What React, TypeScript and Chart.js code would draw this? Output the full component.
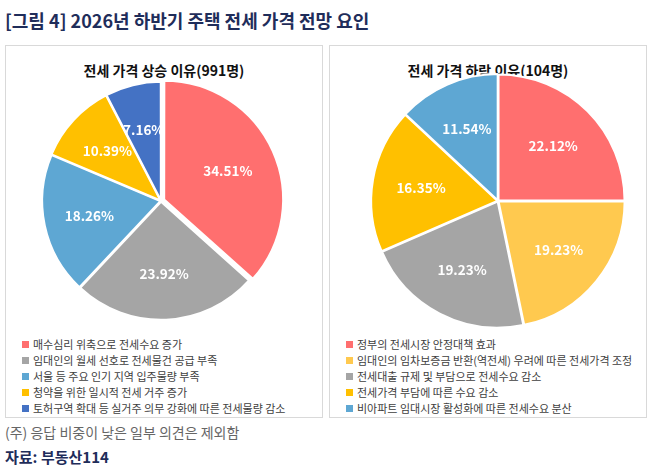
import React, { useEffect, useRef } from "react";
import Chart from "chart.js/auto";

const FONT = "'Noto Sans CJK KR', 'Noto Sans', sans-serif";

const upLabels = [
  "매수심리 위축으로 전세수요 증가",
  "임대인의 월세 선호로 전세물건 공급 부족",
  "서울 등 주요 인기 지역 입주물량 부족",
  "청약을 위한 일시적 전세 거주 증가",
  "토허구역 확대 등 실거주 의무 강화에 따른 전세물량 감소",
];
const upValues = [34.51, 23.92, 18.26, 10.39, 7.16];
const upColors = ["#FF6F6F", "#A5A5A5", "#5EA7D3", "#FFC000", "#4472C4"];

const downLabels = [
  "정부의 전세시장 안정대책 효과",
  "임대인의 임차보증금 반환(역전세) 우려에 따른 전세가격 조정",
  "전세대출 규제 및 부담으로 전세수요 감소",
  "전세가격 부담에 따른 수요 감소",
  "비아파트 임대시장 활성화에 따른 전세수요 분산",
];
const downValues = [22.12, 19.23, 19.23, 16.35, 11.54];
const downColors = ["#FF6F6F", "#FFC94F", "#A5A5A5", "#FFC000", "#5EA7D3"];

const pctPlugin = {
  id: "pct",
  afterDatasetsDraw(chart: any) {
    const ctx = chart.ctx;
    const meta = chart.getDatasetMeta(0);
    const data = chart.data.datasets[0].data;
    ctx.save();
    ctx.fillStyle = "#fff";
    ctx.font = `bold 13.5px ${FONT}`;
    ctx.textAlign = "center";
    ctx.textBaseline = "middle";
    meta.data.forEach((arc: any, i: number) => {
      const { x, y, startAngle, endAngle, outerRadius } = arc.getProps(
        ["x", "y", "startAngle", "endAngle", "outerRadius"],
        true
      );
      const mid = (startAngle + endAngle) / 2;
      const r = outerRadius * 0.62;
      ctx.fillText(data[i].toFixed(2) + "%", x + Math.cos(mid) * r, y + Math.sin(mid) * r);
    });
    ctx.restore();
  },
};

function Pie({ values, colors, offsets, radius }: { values: number[]; colors: string[]; offsets: number[]; radius: number }) {
  const ref = useRef<HTMLCanvasElement | null>(null);
  useEffect(() => {
    if (!ref.current) return;
    const chart = new Chart(ref.current, {
      type: "pie",
      data: {
        labels: values.map((_, i) => String(i)),
        datasets: [
          {
            data: values,
            backgroundColor: colors,
            borderColor: "#fff",
            borderWidth: 2,
            offset: offsets,
            radius: radius,
          },
        ],
      },
      options: {
        animation: false,
        responsive: false,
        layout: { padding: 0 },
        plugins: { legend: { display: false }, tooltip: { enabled: false } },
      },
      plugins: [pctPlugin],
    });
    return () => chart.destroy();
  }, []);
  return <canvas ref={ref} width={290} height={270} style={{ width: 290, height: 270 }} />;
}

function Panel({ left, pieLeft, title, labels, values, colors, offsets, radius }: any) {
  return (
    <div
      style={{
        position: "absolute",
        left,
        top: 45,
        width: 318,
        height: 373,
        border: "1.5px solid #D9D9D9",
        boxSizing: "border-box",
      }}
    >
      <div style={{ position: "absolute", top: 14, width: "100%", textAlign: "center", fontWeight: "bold", fontSize: 14, color: "#111" }}>
        {title}
      </div>
      <div style={{ position: "absolute", left: pieLeft, top: 20 }}>
        <Pie values={values} colors={colors} offsets={offsets} radius={radius} />
      </div>
      <div style={{ position: "absolute", left: 16, top: 290 }}>
        {labels.map((l: string, i: number) => (
          <div key={i} style={{ height: 16, fontSize: 11, color: "#404040", display: "flex", alignItems: "center", whiteSpace: "nowrap" }}>
            <span style={{ display: "inline-block", width: 7, height: 7, background: colors[i], marginRight: 4 }} />
            {l}
          </div>
        ))}
      </div>
    </div>
  );
}

export default function App() {
  return (
    <div style={{ position: "fixed", left: 0, top: 0, width: 658, height: 472, background: "#fff", fontFamily: FONT, overflow: "hidden" }}>
      <div style={{ position: "absolute", left: 5, top: 7, fontSize: 18, fontWeight: "bold", color: "#1F2D5A" }}>
        [그림 4] 2026년 하반기 주택 전세 가격 전망 요인
      </div>
      <Panel left={5} pieLeft={10} title="전세 가격 상승 이유(991명)" labels={upLabels} values={upValues} colors={upColors} offsets={[14, 3, 3, 3, 3]} radius={118} />
      <Panel left={329} pieLeft={23} title="전세 가격 하락 이유(104명)" labels={downLabels} values={downValues} colors={downColors} offsets={[3, 3, 3, 3, 3]} radius={126} />
      <div style={{ position: "absolute", left: 5, top: 422, fontSize: 14, color: "#666" }}>(주) 응답 비중이 낮은 일부 의견은 제외함</div>
      <div style={{ position: "absolute", left: 5, top: 446, fontSize: 15, fontWeight: "bold", color: "#1F2D5A" }}>자료: 부동산114</div>
    </div>
  );
}
